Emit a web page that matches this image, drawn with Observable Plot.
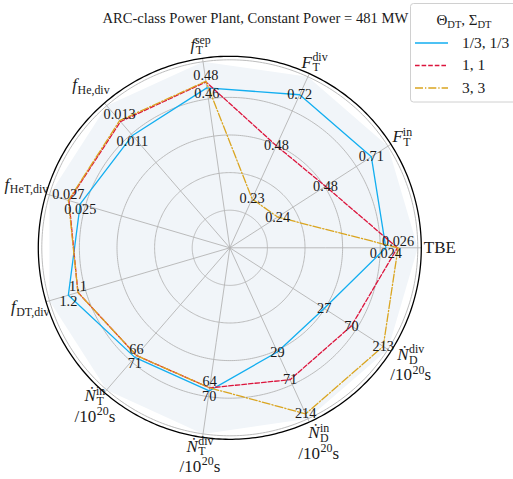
<!DOCTYPE html>
<html><head><meta charset="utf-8">
<script src="https://cdn.jsdelivr.net/npm/d3@7"></script>
<script src="https://cdn.jsdelivr.net/npm/@observablehq/plot@0.6"></script>
<style>
body{margin:0;background:#fff;}
#chart{position:relative;width:513px;height:479px;}
</style>
</head><body><div id="chart"></div>
<script>
// ---------- data ----------
const chartTitle = "ARC-class Power Plant, Constant Power = 481 MW";
const axisKeys = ["TBE","FTin","FTdiv","fTsep","fHe","fHeT","fDT","NTin","NTdiv","NDin","NDdiv"];
const axisScaleTypes = ["linear","linear","linear","linear","linear","linear","linear","log","log","log","log"];
const axisTwoLine = [false,false,false,false,false,false,false,true,true,true,true];
const seriesNames = ["1/3, 1/3","1, 1","3, 3"];
const valuesThird = [0.0243,0.71,0.72,0.462,0.0114,0.0251,1.18,71,70,29,27];
const valuesOne   = [0.0261,0.48,0.48,0.479,0.0128,0.0270,1.11,66,64,71,70];
const valuesThree = [0.0262,0.24,0.23,0.481,0.0129,0.0271,1.11,66,64,214,213];
const ringValues = [0.2,0.4,0.6,0.8,1.0];
const unitLine = "/10^20 s";

// ---------- styles / layout ----------
const seriesColors = ["#12aef0","#dc143c","#daa520"];
const seriesDash = [null,"4.6,2","8,2,1.3,2"];
const FONT = "'Liberation Serif', 'DejaVu Serif', serif";
const labelRadiusPx = [210,205,204,205,212,212,208,206,210,214,215]; // axis-label distance from centre
const labelNudgeY = [0,0,0,0,-3,-4,0,2,0,0,0];

// ---------- geometry helpers ----------
const N = axisKeys.length;
const K = 40;                 // degrees of arc per unit radius
const ringPx = 188;           // outer grid ring radius in px
const frameR = 191.5/ringPx;  // outer black circle relative to outer grid ring
const lon = i => i*360/N + 90;
const seriesValues = [valuesThird, valuesOne, valuesThree];
const axisScales = axisKeys.map((k,i) => {
  if (axisScaleTypes[i] === "log") return d3.scaleLog().domain([1, Math.pow(10,2.4)]).range([0,1]);
  const mx = d3.max(seriesValues, s => s[i]);
  return d3.scaleLinear().domain([0, mx/0.895]).range([0,1]);
});
const fmt = v => v >= 10 ? d3.format("d")(Math.round(v)) : d3.format(".2r")(v);

const rows = [];
seriesValues.forEach((vals, s) => vals.forEach((v, i) => {
  rows.push({series: s, axis: i, value: v, lon: lon(i), r: axisScales[i](v), label: fmt(v)});
}));
// one label per distinct text on each axis, nudged apart when two share an axis
const labelRows = [];
d3.range(N).forEach(i => {
  const axisRows = rows.filter(e => e.axis === i);
  const groups = d3.groups(axisRows, e => e.label);
  const maxLabel = axisRows.reduce((a,b) => b.value > a.value ? b : a).label;
  const s = Math.sin(i*2*Math.PI/N);
  const outwardDown = s < -0.1;
  groups.forEach(([label, g]) => {
    const d = g.reduce((a,b) => b.value > a.value ? b : a);
    let group = "mid";
    if (groups.length === 2) group = ((label === maxLabel) === outwardDown) ? "down" : "up";
    labelRows.push({...d, group});
  });
});

const axisIdx = d3.range(N);
const nudgeGroups = Array.from(new Set(labelNudgeY));

const marks = [
  Plot.line(axisIdx, {x: i => lon(i), y: () => 90 - K*1, fill: "#f1f5f9", stroke: "none", curve: "linear-closed"}),
  Plot.geo(ringValues, {geometry: r => d3.geoCircle().center([0,90]).radius(r*K).precision(1)(), stroke: "#b4b4b4", strokeWidth: 0.9, fill: "none"}),
  Plot.link(axisIdx, {x1: i => lon(i), y1: () => 90, x2: i => lon(i), y2: () => 90 - K*frameR, stroke: "#b4b4b4", strokeWidth: 0.9}),
  Plot.geo([frameR], {geometry: r => d3.geoCircle().center([0,90]).radius(r*K).precision(1)(), stroke: "black", strokeWidth: 1.3, fill: "none"}),
];
seriesValues.forEach((_, s) => {
  marks.push(Plot.line(rows.filter(d => d.series === s), {
    x: "lon", y: d => 90 - K*d.r, stroke: seriesColors[s], strokeWidth: 1.3,
    strokeDasharray: seriesDash[s] || undefined, curve: "linear-closed"
  }));
});
const labelOpts = {x: "lon", y: d => 90 - K*d.r, text: "label", fontSize: 14.3, fill: "#1a1a1a"};
marks.push(Plot.text(labelRows.filter(d => d.group === "mid"), {...labelOpts}));
marks.push(Plot.text(labelRows.filter(d => d.group === "up"), {...labelOpts, dy: -6}));
marks.push(Plot.text(labelRows.filter(d => d.group === "down"), {...labelOpts, dy: 6}));
// axis labels
const labLat = i => 90 - K*labelRadiusPx[i]/ringPx;
nudgeGroups.forEach(ny => {
  const single = axisIdx.filter(i => !axisTwoLine[i] && labelNudgeY[i] === ny);
  const dbl = axisIdx.filter(i => axisTwoLine[i] && labelNudgeY[i] === ny);
  if (single.length) marks.push(Plot.text(single, {x: i => lon(i), y: labLat, text: i => axisKeys[i], fontSize: 17, dy: ny, fill: "#1a1a1a"}));
  if (dbl.length) {
    marks.push(Plot.text(dbl, {x: i => lon(i), y: labLat, text: i => axisKeys[i], fontSize: 17, dy: ny - 9.5, fill: "#1a1a1a"}));
    marks.push(Plot.text(dbl, {x: i => lon(i), y: labLat, text: () => unitLine, fontSize: 17, dy: ny + 11, fill: "#1a1a1a"}));
  }
});
// title
marks.push(Plot.text([chartTitle], {frameAnchor: "top", dx: 25.5, dy: -44, fontSize: 14.6, fill: "#1a1a1a"}));

const plot = Plot.plot({
  width: 513, height: 479,
  marginLeft: 37.8, marginRight: 92.2, marginTop: 55.8, marginBottom: 40.2,
  projection: {type: "azimuthal-equidistant", rotate: [0, -90], clip: false,
    domain: d3.geoCircle().center([0,90]).radius(frameR*K).precision(1)()},
  style: {fontFamily: FONT, background: "white", overflow: "visible"},
  marks
});
document.getElementById("chart").appendChild(plot);

// ---------- rich text (sub/superscripts) ----------
const richMap = {
  "TBE": [{t: "TBE"}],
  "FTin": [{t: "F", it: true, sub: "T", sup: "in"}],
  "FTdiv": [{t: "F", it: true, sub: "T", sup: "div"}],
  "fTsep": [{t: "f", it: true, sub: "T", sup: "sep"}],
  "fHe": [{t: "f", it: true, sub: "He,div"}],
  "fHeT": [{t: "f", it: true, sub: "HeT,div"}],
  "fDT": [{t: "f", it: true, sub: "DT,div"}],
  "NTin": [{t: "\u1E44", it: true, sub: "T", sup: "in"}],
  "NTdiv": [{t: "\u1E44", it: true, sub: "T", sup: "div"}],
  "NDin": [{t: "\u1E44", it: true, sub: "D", sup: "in"}],
  "NDdiv": [{t: "\u1E44", it: true, sub: "D", sup: "div"}],
  "/10^20 s": [{t: "/10", sup: "20"}, {t: "s"}]
};
const NS = "http://www.w3.org/2000/svg";
function buildRich(el, parts, fs) {
  while (el.firstChild) el.removeChild(el.firstChild);
  let cur = 0;
  const subFs = fs*0.7, subShift = fs*0.22, supShift = -fs*0.4;
  const add = (txt, o = {}) => {
    const t = document.createElementNS(NS, "tspan");
    t.textContent = txt;
    const target = o.shift || 0;
    if (target !== cur) { t.setAttribute("dy", (target - cur).toFixed(2)); cur = target; }
    if (o.fs) t.setAttribute("font-size", o.fs);
    if (o.it) t.setAttribute("font-style", "italic");
    if (o.dx) t.setAttribute("dx", o.dx.toFixed(2));
    el.appendChild(t);
    return t;
  };
  for (const p of parts) {
    add(p.t, {it: p.it});
    let w = 0;
    if (p.sub) { const s = add(p.sub, {fs: subFs, shift: subShift, dx: p.it ? 0.5 : 0}); w = s.getComputedTextLength(); }
    if (p.sup) add(p.sup, {fs: subFs, shift: supShift, dx: p.sub ? -w : (p.it ? 1.5 : 0.5)});
  }
}
d3.select(plot).selectAll("text").each(function() {
  const key = this.textContent;
  if (richMap[key]) {
    const fs = parseFloat(this.getAttribute("font-size") || getComputedStyle(this).fontSize) || 17;
    buildRich(this, richMap[key], fs);
  }
});

// ---------- legend ----------
const svg = d3.select(plot);
const lg = svg.append("g").attr("font-family", FONT).attr("fill", "#1a1a1a").attr("text-anchor", "start");
lg.append("rect").attr("x", 410.5).attr("y", 3.5).attr("width", 110).attr("height", 98.5)
  .attr("rx", 3).attr("fill", "white").attr("fill-opacity", 0.85).attr("stroke", "#d0d0d0");
const lt = lg.append("text").attr("x", 464).attr("y", 25).attr("text-anchor", "middle").attr("font-size", 15);
buildRich(lt.node(), [{t: "\u0398", sub: "DT"}, {t: ", \u03A3", sub: "DT"}], 15);
seriesNames.forEach((name, s) => {
  const y = 43 + s*22.5;
  lg.append("line").attr("x1", 415).attr("x2", 448).attr("y1", y).attr("y2", y)
    .attr("stroke", seriesColors[s]).attr("stroke-width", 1.3)
    .attr("stroke-dasharray", seriesDash[s] || null);
  lg.append("text").attr("x", 462).attr("y", y).attr("dy", "0.32em").attr("text-anchor", "start")
    .attr("font-size", 15.5).text(name);
});
</script>
</body></html>
